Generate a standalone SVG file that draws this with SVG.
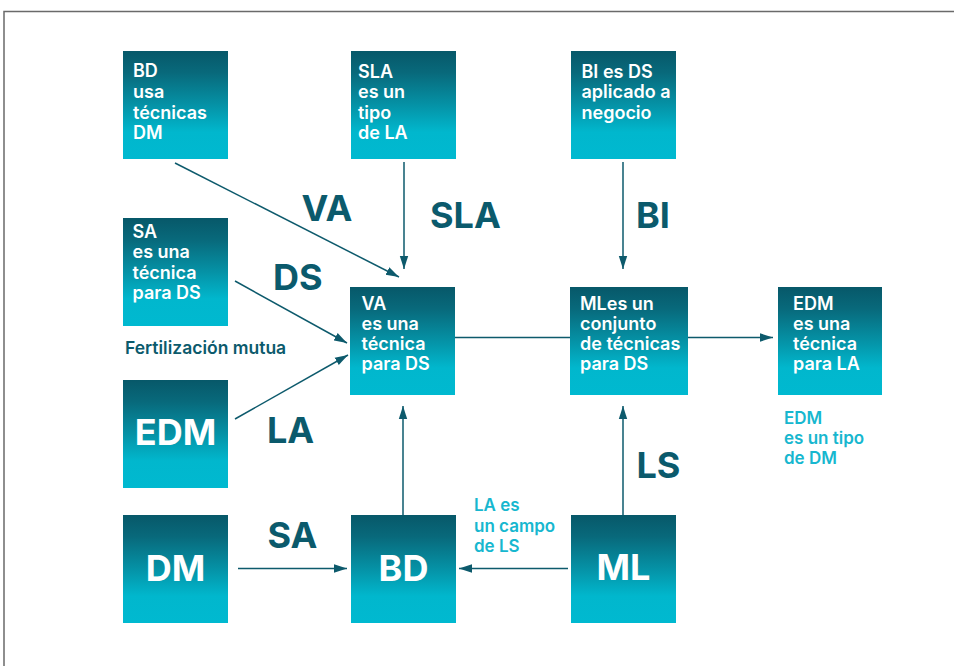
<svg xmlns="http://www.w3.org/2000/svg" width="954" height="666" viewBox="0 0 954 666">
<defs>
<linearGradient id="g" x1="0" y1="0" x2="0" y2="1">
<stop offset="0" stop-color="#075869"/>
<stop offset="0.2" stop-color="#08697b"/>
<stop offset="0.5" stop-color="#0592a6"/>
<stop offset="0.75" stop-color="#01b7cd"/>
<stop offset="1" stop-color="#00b9d0"/>
</linearGradient>
<marker id="ah" markerUnits="userSpaceOnUse" markerWidth="14" markerHeight="10" refX="13" refY="5" orient="auto">
<path d="M0,0.8 L13,5 L0,9.2 z" fill="#0d5a6c"/>
</marker>
<style>
.box{fill:url(#g)}
.t{font-family:Inter,"Noto Sans","Liberation Sans",sans-serif;font-weight:600;font-size:18px;fill:#ffffff}
.big{font-family:Inter,"Noto Sans","Liberation Sans",sans-serif;font-weight:700;font-size:36px;fill:#ffffff;text-anchor:middle}
.lab{font-family:Inter,"Noto Sans","Liberation Sans",sans-serif;font-weight:700;font-size:36px;fill:#0b5a6c}
.cy{font-family:Inter,"Noto Sans","Liberation Sans",sans-serif;font-weight:600;font-size:17px;fill:#17b7cf}
.dk{font-family:Inter,"Noto Sans","Liberation Sans",sans-serif;font-weight:600;font-size:17.5px;fill:#0b5a6c}
.c{stroke:#0d5a6c;stroke-width:1.5;fill:none}
.a{marker-end:url(#ah)}
</style>
</defs>
<rect width="954" height="666" fill="#ffffff"/>
<path d="M4,666 V11.5 H954" fill="none" stroke="#6a6a6a" stroke-width="1.5"/>

<g id="connectors">
<line class="c a" x1="175" y1="163" x2="399" y2="277"/>
<line class="c a" x1="404" y1="162" x2="404" y2="269"/>
<line class="c a" x1="623" y1="162" x2="623" y2="269"/>
<line class="c a" x1="235" y1="281" x2="347" y2="343"/>
<line class="c a" x1="235" y1="419" x2="348" y2="355"/>
<line class="c" x1="455" y1="337.5" x2="571" y2="337.5"/>
<line class="c a" x1="688" y1="337.5" x2="773" y2="337.5"/>
<line class="c a" x1="403" y1="515" x2="403" y2="406"/>
<line class="c a" x1="623" y1="515" x2="623" y2="406"/>
<line class="c a" x1="238" y1="568.5" x2="347" y2="568.5"/>
<line class="c a" x1="568" y1="568.5" x2="459" y2="568.5"/>
</g>

<g id="n-bd-top">
<rect class="box" x="123" y="51" width="105" height="108"/>
<text class="t" x="133" y="77">BD</text>
<text class="t" x="133" y="98">usa</text>
<text class="t" x="133" y="119">técnicas</text>
<text class="t" x="133" y="139">DM</text>
</g>
<g id="n-sla">
<rect class="box" x="351" y="51" width="105" height="108"/>
<text class="t" x="358" y="77.5">SLA</text>
<text class="t" x="358" y="98">es un</text>
<text class="t" x="358" y="119">tipo</text>
<text class="t" x="358" y="139">de LA</text>
</g>
<g id="n-bi">
<rect class="box" x="571" y="51" width="105" height="108"/>
<text class="t" x="581.5" y="77.5">BI es DS</text>
<text class="t" x="581.5" y="98">aplicado a</text>
<text class="t" x="581.5" y="119">negocio</text>
</g>
<g id="n-sa">
<rect class="box" x="123" y="218" width="105" height="108"/>
<text class="t" x="132.5" y="237.5">SA</text>
<text class="t" x="132.5" y="258">es una</text>
<text class="t" x="132.5" y="278.5">técnica</text>
<text class="t" x="132.5" y="299">para DS</text>
</g>
<g id="n-va">
<rect class="box" x="350" y="287" width="105" height="108"/>
<text class="t" x="361.5" y="310">VA</text>
<text class="t" x="361.5" y="330">es una</text>
<text class="t" x="361.5" y="350">técnica</text>
<text class="t" x="361.5" y="370">para DS</text>
</g>
<g id="n-ml-center">
<rect class="box" x="570" y="287" width="118" height="108"/>
<text class="t" x="580" y="309.5">MLes un</text>
<text class="t" x="580" y="329.5">conjunto</text>
<text class="t" x="580" y="349.5">de técnicas</text>
<text class="t" x="580" y="369.5">para DS</text>
</g>
<g id="n-edm-right">
<rect class="box" x="778" y="287" width="104" height="108"/>
<text class="t" x="793" y="309.5">EDM</text>
<text class="t" x="793" y="329.5">es una</text>
<text class="t" x="793" y="349.5">técnica</text>
<text class="t" x="793" y="369.5">para LA</text>
</g>
<g id="n-edm-left">
<rect class="box" x="123" y="380" width="105" height="108"/>
<text class="big" x="175.5" y="445">EDM</text>
</g>
<g id="n-dm">
<rect class="box" x="123" y="515" width="105" height="108"/>
<text class="big" x="175.5" y="581">DM</text>
</g>
<g id="n-bd-bottom">
<rect class="box" x="351" y="515" width="105" height="108"/>
<text class="big" x="403.5" y="581">BD</text>
</g>
<g id="n-ml-bottom">
<rect class="box" x="571" y="515" width="105" height="108"/>
<text class="big" x="623.5" y="580">ML</text>
</g>

<g id="labels">
<text class="lab" x="301.5" y="221">VA</text>
<text class="lab" x="430" y="228">SLA</text>
<text class="lab" x="636" y="228">BI</text>
<text class="lab" x="273" y="290">DS</text>
<text class="lab" x="267" y="443">LA</text>
<text class="lab" x="267.5" y="548">SA</text>
<text class="lab" x="636.5" y="478">LS</text>
<text class="dk" x="125" y="354">Fertilización mutua</text>
<text class="cy" x="784" y="424">EDM</text>
<text class="cy" x="784" y="444">es un tipo</text>
<text class="cy" x="784" y="464">de DM</text>
<text class="cy" x="474" y="511">LA es</text>
<text class="cy" x="474" y="531.5">un campo</text>
<text class="cy" x="474" y="552">de LS</text>
</g>
</svg>
